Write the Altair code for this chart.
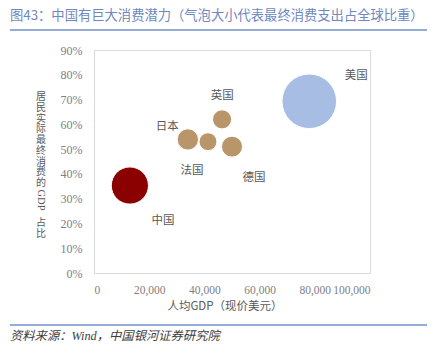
import altair as alt
import pandas as pd

countries = ["中国", "美国", "日本", "法国", "英国", "德国"]
gdp_pc = [13000, 78000, 34000, 41300, 46400, 50000]
cons_ratio = [0.353, 0.693, 0.539, 0.530, 0.620, 0.510]
global_share = [12.5, 27.0, 4.1, 2.9, 3.3, 4.0]
colors = ["#8b0000", "#a8bde3", "#b8966a", "#b8966a", "#b8966a", "#b8966a"]

label_text = ["中国", "美国", "日本", "法国", "英国", "德国"]
label_x = [25000, 95000, 26500, 35500, 46500, 58000]
label_y = [0.21, 0.795, 0.59, 0.41, 0.715, 0.385]

x_ticks = [0, 20000, 40000, 60000, 80000, 100000]
y_ticks = [0, 0.1, 0.2, 0.3, 0.4, 0.5, 0.6, 0.7, 0.8, 0.9]

df = pd.DataFrame({"country": countries, "gdp": gdp_pc, "ratio": cons_ratio,
                   "share": global_share, "color": colors})
lab = pd.DataFrame({"t": label_text, "x": label_x, "y": label_y})

W, H = 276, 223
FONT_NUM = "Liberation Serif, Times New Roman, serif"
FONT_CJK = "Noto Sans CJK SC"

xs = alt.Scale(domain=[0, 100000], nice=False)
ys = alt.Scale(domain=[0, 0.9], nice=False)

x_axis = alt.Axis(
    values=x_ticks, labelExpr="format(datum.value, ',')", grid=False,
    ticks=False, domainColor="#d9d9d9", labelColor="#808080", labelOverlap=False,
    labelFont=FONT_NUM, labelFontSize=11.5, labelPadding=11, title=None)
y_axis = alt.Axis(
    values=y_ticks, labelExpr="format(datum.value, '.0%')", labelOverlap=False,
    grid=False, ticks=False, domainColor="#d9d9d9", labelColor="#808080",
    labelFont=FONT_NUM, labelFontSize=12, labelPadding=12, title=None)

bubbles = alt.Chart(df).mark_circle(opacity=1, stroke="white", strokeWidth=1).encode(
    x=alt.X("gdp:Q", scale=xs, axis=x_axis),
    y=alt.Y("ratio:Q", scale=ys, axis=y_axis),
    size=alt.Size("share:Q", scale=alt.Scale(type="linear", domain=[0, 27.0], range=[0, 2980]), legend=None),
    color=alt.Color("color:N", scale=None),
)

labels = alt.Chart(lab).mark_text(font=FONT_CJK, fontSize=11.5, color="#595959").encode(
    x=alt.X("x:Q", scale=xs, axis=x_axis), y=alt.Y("y:Q", scale=ys, axis=y_axis), text="t:N")

def txt(s, x, y, size=11, color="#595959", align="center", font=FONT_CJK, style="normal",
        angle=0, baseline="middle"):
    return alt.Chart(pd.DataFrame({"t": [s]})).mark_text(
        font=font, fontSize=size, color=color, align=align, baseline=baseline,
        fontStyle=style, angle=angle).encode(x=alt.value(x), y=alt.value(y), text="t:N")

def hline(x1, x2, y, color="#7191c9", w=1.5):
    return alt.Chart(pd.DataFrame({"a": [0]})).mark_rule(color=color, strokeWidth=w).encode(
        x=alt.value(x1), x2=alt.value(x2), y=alt.value(y))

L, T = 94, 50
title = txt("图43：中国有巨大消费潜力（气泡大小代表最终消费支出占全球比重）", 10 - L, 16 - T,
            size=13.3, color="#6f88c0", align="left")
line_top = hline(10 - L, 427 - L, 30 - T)
line_bot = hline(10 - L, 427 - L, 325 - T)
source = txt("资料来源：Wind，中国银河证券研究院", 10 - L, 336 - T, size=12.3,
             color="#404040", align="left", font="Liberation Serif, Noto Sans CJK SC, serif",
             style="italic")
xtitle = txt("人均GDP（现价美元）", 225 - L, 307 - T, size=11.5)

# vertical y-axis title, one character per text mark
ylayers = []
for i, c in enumerate("居民实际最终消费的"):
    ylayers.append(txt(c, 41 - L, 97 + i * 10.75 - T, size=10))
ylayers.append(txt("GDP", 41 - L, 200 - T, size=10.5, font=FONT_NUM, angle=90))
ylayers.append(txt("占", 41 - L, 223 - T, size=10))
ylayers.append(txt("比", 41 - L, 234 - T, size=10))

chart = alt.layer(bubbles, labels, title, line_top, line_bot, source, xtitle, *ylayers).properties(
    width=W, height=H,
    autosize=alt.AutoSizeParams(type="none"),
    padding={"left": L, "top": T, "right": 439 - L - W, "bottom": 354 - T - H},
).configure_view(stroke="transparent", strokeWidth=0).configure(background="white")

chart.save("out.html", embed_options={"renderer": "svg", "actions": False})
